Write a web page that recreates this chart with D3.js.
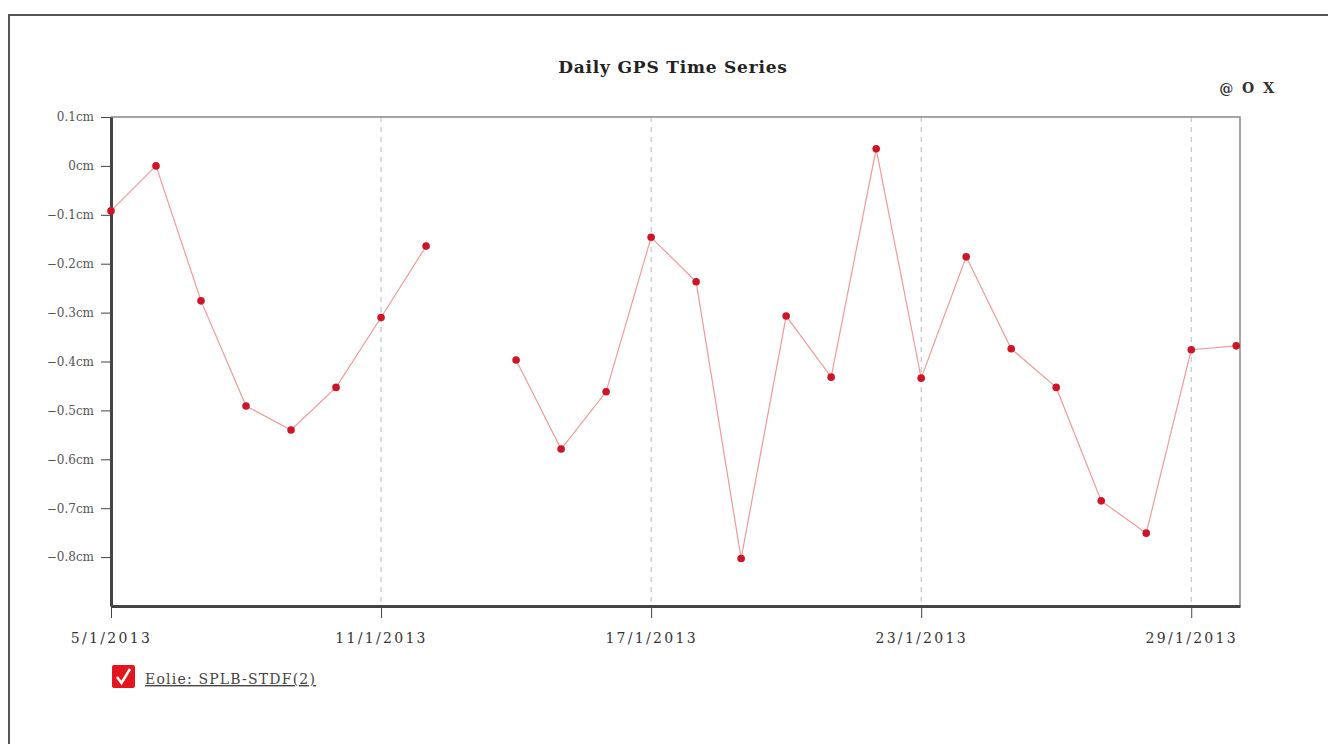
<!DOCTYPE html>
<html>
<head>
<meta charset="utf-8">
<title>Daily GPS Time Series</title>
<script src="https://cdn.jsdelivr.net/npm/d3@7"></script>
<style>
    body { margin: 0; background: #fff; }
    svg { display: block; font-family: "DejaVu Serif", Georgia, serif; }
</style>
</head>
<body>
<svg id="drawing_region"></svg>
<script>
// daily solutions, one per day (13/1 missing)
const dates = ["5/1/2013", "6/1/2013", "7/1/2013", "8/1/2013", "9/1/2013", "10/1/2013",
    "11/1/2013", "12/1/2013", "13/1/2013", "14/1/2013", "15/1/2013", "16/1/2013",
    "17/1/2013", "18/1/2013", "19/1/2013", "20/1/2013", "21/1/2013", "22/1/2013",
    "23/1/2013", "24/1/2013", "25/1/2013", "26/1/2013", "27/1/2013", "28/1/2013",
    "29/1/2013", "30/1/2013"];
const values = [-0.092, 0.0, -0.276, -0.491, -0.540, -0.453,
    -0.310, -0.164, null, -0.397, -0.579, -0.462,
    -0.146, -0.237, -0.803, -0.307, -0.432, 0.035,
    -0.434, -0.186, -0.374, -0.453, -0.685, -0.751,
    -0.376, -0.368];
const xTicks = ["5/1/2013", "11/1/2013", "17/1/2013", "23/1/2013", "29/1/2013"];
const yTicks = [0.1, 0, -0.1, -0.2, -0.3, -0.4, -0.5, -0.6, -0.7, -0.8];
const seriesName = "Eolie: SPLB-STDF(2)";
const title = "Daily GPS Time Series";

const parseDate = d3.timeParse("%d/%m/%Y");
const data = dates.map((d, i) => ({ date: parseDate(d), value: values[i] }));

class LineChart {

    constructor( config, data ) {
        this.config = {
            parent: config.parent,
            width: config.width || 1328,
            height: config.height || 744,
            margin: config.margin
        }
        this.data = data;
        this.init();
    }

    init() {
        let self = this;
        const m = self.config.margin;

        self.svg = d3.select( self.config.parent )
            .attr('width', self.config.width)
            .attr('height', self.config.height);

        self.inner_width = self.config.width - m.left - m.right;
        self.inner_height = self.config.height - m.top - m.bottom;

        self.chart = self.svg.append('g')
            .attr('transform', `translate(${m.left}, ${m.top})`);

        // a little slack after the last day, as in the original
        self.xscale = d3.scaleTime()
            .domain([parseDate(dates[0]), d3.timeHour.offset(parseDate(dates[dates.length-1]), 2)])
            .range([0, self.inner_width]);

        self.yscale = d3.scaleLinear()
            .domain([-0.9, 0.1])
            .range([self.inner_height, 0]);

        self.xaxis = d3.axisBottom( self.xscale )
            .tickValues( xTicks.map(parseDate) )
            .tickFormat( d3.timeFormat("%-d/%-m/%Y") )
            .tickSizeInner(12)
            .tickSizeOuter(0)
            .tickPadding(15);

        self.yaxis = d3.axisLeft( self.yscale )
            .tickValues( yTicks )
            .tickFormat( d => d3.format(".1~f")(d) + "cm" )
            .tickSizeInner(10)
            .tickSizeOuter(0)
            .tickPadding(7);
    }

    update() {
        let self = this;
        self.render();
    }

    render() {
        let self = this;
        const w = self.inner_width, h = self.inner_height;

        // page frame
        self.svg.append('path')
            .attr('d', `M9,${self.config.height} V15 H${self.config.width}`)
            .attr('fill', 'none')
            .attr('stroke', '#555')
            .attr('stroke-width', 2);

        self.svg.append('text')
            .attr('x', 673)
            .attr('y', 73)
            .attr('text-anchor', 'middle')
            .attr('font-size', '17px')
            .attr('font-weight', 'bold')
            .attr('letter-spacing', '0.8px')
            .attr('fill', '#222')
            .text(title);

        self.svg.append('text')
            .attr('x', 1276)
            .attr('y', 93)
            .attr('text-anchor', 'end')
            .attr('font-size', '14px')
            .attr('font-weight', 'bold')
            .attr('letter-spacing', '2px')
            .attr('fill', '#333')
            .text('@ O X');

        // dashed verticals on the date ticks
        self.chart.append('g')
            .selectAll('line')
            .data(xTicks.map(parseDate).slice(1))
            .join('line')
            .attr('x1', d => self.xscale(d))
            .attr('x2', d => self.xscale(d))
            .attr('y1', 0)
            .attr('y2', h)
            .attr('stroke', '#bbb')
            .attr('stroke-dasharray', '5,5');

        // top / right frame
        self.chart.append('path')
            .attr('d', `M0,0 H${w} V${h}`)
            .attr('fill', 'none')
            .attr('stroke', '#888')
            .attr('stroke-width', 1.5);

        const xg = self.chart.append('g')
            .attr('transform', `translate(0, ${h})`)
            .call(self.xaxis);
        xg.select('.domain').attr('stroke', '#444').attr('stroke-width', 3);
        xg.selectAll('.tick line').attr('stroke', '#444');
        xg.selectAll('.tick text')
            .attr('font-family', '"DejaVu Serif", Georgia, serif')
            .attr('font-size', '14px')
            .attr('letter-spacing', '2.3px')
            .attr('fill', '#333');

        const yg = self.chart.append('g')
            .call(self.yaxis);
        yg.select('.domain').attr('stroke', '#444').attr('stroke-width', 3);
        yg.selectAll('.tick line').attr('stroke', '#444');
        yg.selectAll('.tick text')
            .attr('font-family', '"DejaVu Serif", Georgia, serif')
            .attr('font-size', '12px')
            .attr('fill', '#555');

        const line = d3.line()
            .defined(d => d.value !== null)
            .x(d => self.xscale(d.date))
            .y(d => self.yscale(d.value));

        self.chart.append('path')
            .datum(self.data)
            .attr('d', line)
            .attr('fill', 'none')
            .attr('stroke', '#f09a9a')
            .attr('stroke-width', 1.2);

        self.chart.append('g')
            .selectAll('circle')
            .data(self.data.filter(d => d.value !== null))
            .join('circle')
            .attr('cx', d => self.xscale(d.date))
            .attr('cy', d => self.yscale(d.value))
            .attr('r', 3.8)
            .attr('fill', '#cf1428');

        // legend
        const lg = self.svg.append('g')
            .attr('transform', 'translate(112, 665)');
        lg.append('rect')
            .attr('width', 23)
            .attr('height', 23)
            .attr('rx', 2)
            .attr('fill', '#e3151f');
        lg.append('path')
            .attr('d', 'M5,12 L9.5,18 L18,4')
            .attr('fill', 'none')
            .attr('stroke', '#fff')
            .attr('stroke-width', 2.5);
        lg.append('text')
            .attr('x', 33)
            .attr('y', 19)
            .attr('font-size', '14px')
            .attr('letter-spacing', '1.2px')
            .attr('fill', '#444')
            .attr('text-decoration', 'underline')
            .text(seriesName);
    }
}

const linechart = new LineChart({
    parent: '#drawing_region',
    width: 1328,
    height: 744,
    margin: { top: 117, right: 88, bottom: 138, left: 111 }
}, data);
linechart.update();
</script>
</body>
</html>
